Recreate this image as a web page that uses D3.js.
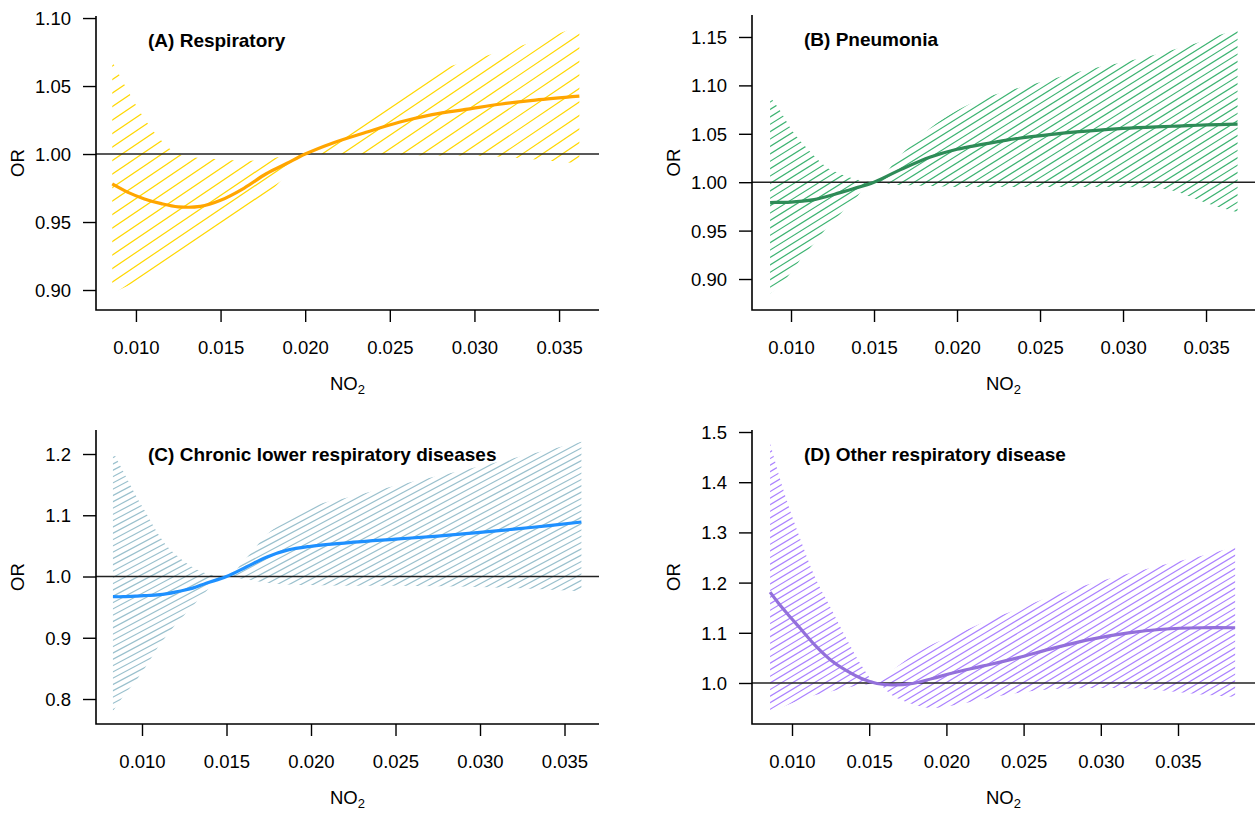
<!DOCTYPE html>
<html>
<head>
<meta charset="utf-8">
<script src="https://cdn.jsdelivr.net/npm/d3@7"></script>
<style>
  body { margin: 0; background: #fff; }
  text { font-family: "Liberation Sans", Arial, Helvetica, sans-serif; fill: #000; }
</style>
</head>
<body>
<svg id="chart" width="1255" height="813"></svg>
<script>
// NO2 ticks shared by all panels
const xTicks = [0.010, 0.015, 0.020, 0.025, 0.030, 0.035];

// (A) Respiratory
const xA   = [0.0086, 0.0095, 0.0105, 0.0115, 0.0125, 0.0138, 0.0150, 0.0164, 0.0177, 0.0189, 0.0200, 0.0216, 0.0236, 0.0256, 0.0275, 0.0296, 0.0316, 0.0336, 0.0362];
const fitA = [0.978, 0.972, 0.967, 0.9635, 0.9612, 0.9615, 0.966, 0.975, 0.9855, 0.993, 1.000, 1.008, 1.016, 1.0235, 1.029, 1.033, 1.0368, 1.0397, 1.0426];
const hiA  = [1.068, 1.047, 1.026, 1.010, 1.000, 0.997, 0.996, 0.995, 0.996, 0.999, 1.000, 1.013, 1.030, 1.046, 1.060, 1.068, 1.0755, 1.083, 1.094];
const loA  = [0.898, 0.903, 0.909, 0.916, 0.922, 0.932, 0.942, 0.954, 0.969, 0.985, 1.000, 1.000, 1.000, 0.9995, 0.999, 0.999, 0.998, 0.996, 0.993];
const yTicksA = [0.90, 0.95, 1.00, 1.05, 1.10];

// (B) Pneumonia
const xB   = [0.00874, 0.0093, 0.0100, 0.0107, 0.0114, 0.0121, 0.0129, 0.0137, 0.0150, 0.0166, 0.0184, 0.0200, 0.0215, 0.0230, 0.0245, 0.0260, 0.0280, 0.0300, 0.0320, 0.0333, 0.0345, 0.0358, 0.0369];
const fitB = [0.979, 0.9792, 0.9795, 0.9805, 0.982, 0.985, 0.989, 0.993, 1.000, 1.013, 1.026, 1.034, 1.039, 1.0435, 1.047, 1.050, 1.053, 1.0555, 1.0572, 1.058, 1.0588, 1.0595, 1.060];
const hiB  = [1.088, 1.075, 1.055, 1.040, 1.027, 1.016, 1.009, 1.004, 1.000, 1.028, 1.056, 1.074, 1.086, 1.094, 1.101, 1.108, 1.117, 1.124, 1.132, 1.138, 1.144, 1.152, 1.157];
const loB  = [0.885, 0.893, 0.907, 0.923, 0.937, 0.952, 0.966, 0.980, 1.000, 0.997, 0.996, 0.995, 0.995, 0.995, 0.995, 0.995, 0.995, 0.995, 0.994, 0.990, 0.982, 0.974, 0.969];
const yTicksB = [0.90, 0.95, 1.00, 1.05, 1.10, 1.15];

// (C) Chronic lower respiratory diseases
const xC   = [0.00828, 0.0089, 0.0097, 0.0103, 0.0109, 0.0115, 0.0122, 0.0130, 0.0138, 0.0150, 0.0162, 0.0174, 0.0186, 0.0199, 0.0225, 0.0250, 0.0275, 0.0300, 0.0330, 0.0360];
const fitC = [0.967, 0.967, 0.968, 0.969, 0.970, 0.972, 0.976, 0.981, 0.989, 1.000, 1.016, 1.032, 1.043, 1.049, 1.056, 1.061, 1.066, 1.072, 1.080, 1.089];
const hiC  = [1.204, 1.171, 1.129, 1.101, 1.072, 1.049, 1.031, 1.015, 1.005, 1.000, 1.031, 1.069, 1.092, 1.112, 1.131, 1.148, 1.164, 1.180, 1.200, 1.220];
const loC  = [0.780, 0.805, 0.832, 0.856, 0.883, 0.905, 0.928, 0.952, 0.976, 1.000, 0.995, 0.990, 0.987, 0.986, 0.985, 0.985, 0.984, 0.983, 0.980, 0.976];
const yTicksC = [0.8, 0.9, 1.0, 1.1, 1.2];

// (D) Other respiratory disease
const xD   = [0.00858, 0.0091, 0.0097, 0.0105, 0.0115, 0.0125, 0.0135, 0.0145, 0.0155, 0.0165, 0.0178, 0.0191, 0.0204, 0.0224, 0.0246, 0.0270, 0.0295, 0.0318, 0.0340, 0.0365, 0.0387];
const fitD = [1.181, 1.160, 1.138, 1.110, 1.075, 1.046, 1.025, 1.009, 0.999, 0.996, 0.999, 1.009, 1.020, 1.034, 1.050, 1.070, 1.088, 1.100, 1.107, 1.110, 1.110];
const hiD  = [1.478, 1.42, 1.36, 1.29, 1.21, 1.15, 1.09, 1.035, 1.000, 1.025, 1.055, 1.077, 1.093, 1.121, 1.147, 1.175, 1.199, 1.218, 1.235, 1.253, 1.271];
const loD  = [0.940, 0.948, 0.956, 0.966, 0.976, 0.983, 0.990, 0.996, 0.998, 0.975, 0.958, 0.950, 0.955, 0.968, 0.980, 0.988, 0.990, 0.990, 0.985, 0.977, 0.972];
const yTicksD = [1.0, 1.1, 1.2, 1.3, 1.4, 1.5];

const panels = [
  { key: "A", title: "(A) Respiratory", x: xA, fit: fitA, lo: loA, hi: hiA, yTicks: yTicksA, yFmt: ".2f",
    box: { l: 96, r: 599, t: 16, b: 310 }, xDom: [0.00764, 0.03736], yDom: [0.8853, 1.1015],
    line: "#FFA500", shade: "#FFD700", angle: 34, gap: 13.5 },
  { key: "B", title: "(B) Pneumonia", x: xB, fit: fitB, lo: loB, hi: hiB, yTicks: yTicksB, yFmt: ".2f",
    box: { l: 752, r: 1255, t: 15, b: 310 }, xDom: [0.00765, 0.03795], yDom: [0.868, 1.1727],
    line: "#2E8B57", shade: "#3CB371", angle: 32, gap: 7.4 },
  { key: "C", title: "(C) Chronic lower respiratory diseases", x: xC, fit: fitC, lo: loC, hi: hiC, yTicks: yTicksC, yFmt: ".1f",
    box: { l: 96, r: 599, t: 430, b: 724 }, xDom: [0.007278, 0.037041], yDom: [0.7592, 1.2392],
    line: "#1E90FF", shade: "#9AC0CD", angle: 28, gap: 6.3 },
  { key: "D", title: "(D) Other respiratory disease", x: xD, fit: fitD, lo: loD, hi: hiD, yTicks: yTicksD, yFmt: ".1f",
    box: { l: 752, r: 1255, t: 430, b: 724 }, xDom: [0.007409, 0.039987], yDom: [0.9183, 1.504],
    line: "#9370DB", shade: "#AB82FF", angle: 31, gap: 6.6 }
];

const svg = d3.select("#chart");
const defs = svg.append("defs");
const smooth = d3.curveCatmullRom.alpha(0.5);

panels.forEach(p => {
  const box = p.box;
  const x = d3.scaleLinear().domain(p.xDom).range([box.l, box.r]);
  const y = d3.scaleLinear().domain(p.yDom).range([box.b, box.t]);
  const rows = p.x.map((v, i) => ({ x: v, fit: p.fit[i], lo: p.lo[i], hi: p.hi[i] }));
  const g = svg.append("g");

  // confidence band used as clip region for the hatching
  const band = d3.area()
    .x(d => x(d.x)).y0(d => y(d.lo)).y1(d => y(d.hi))
    .curve(d3.curveMonotoneX);
  defs.append("clipPath").attr("id", "band" + p.key)
    .append("path").attr("d", band(rows));

  const tan = Math.tan(p.angle * Math.PI / 180);
  const w = box.r - box.l;
  const offsets = d3.range(box.t - 20, box.b + w * tan + 20, p.gap);
  g.append("g").attr("clip-path", `url(#band${p.key})`)
    .selectAll("line").data(offsets).join("line")
    .attr("x1", box.l).attr("y1", d => d)
    .attr("x2", box.r).attr("y2", d => d - w * tan)
    .attr("stroke", p.shade).attr("stroke-width", 1.2);

  // reference line at OR = 1
  g.append("line")
    .attr("x1", box.l).attr("x2", box.r)
    .attr("y1", y(1)).attr("y2", y(1))
    .attr("stroke", "#222").attr("stroke-width", 1.4);

  // fitted curve
  g.append("path").datum(rows)
    .attr("fill", "none").attr("stroke", p.line).attr("stroke-width", 3.2)
    .attr("d", d3.line().x(d => x(d.x)).y(d => y(d.fit)).curve(smooth));

  // axes
  const xa = g.append("g").attr("transform", `translate(0,${box.b})`)
    .call(d3.axisBottom(x).tickValues(xTicks).tickSize(12).tickSizeOuter(0).tickFormat(d3.format(".3f")));
  const ya = g.append("g").attr("transform", `translate(${box.l},0)`)
    .call(d3.axisLeft(y).tickValues(p.yTicks).tickSize(13).tickSizeOuter(0).tickFormat(d3.format(p.yFmt)));
  [xa, ya].forEach(a => {
    a.select(".domain").remove();
    a.selectAll(".tick line").attr("stroke", "#000").attr("stroke-width", 1.4);
    a.selectAll(".tick text").attr("font-size", 18.5).attr("fill", "#000")
      .style("font-family", '"Liberation Sans", Arial, sans-serif');
  });
  xa.selectAll(".tick text").attr("y", 43.5).attr("dy", null);
  ya.selectAll(".tick text").attr("x", -25).attr("dy", "0.35em");

  // L-shaped frame
  g.append("path")
    .attr("d", `M${box.l},${box.t}V${box.b}H${box.r}`)
    .attr("fill", "none").attr("stroke", "#000").attr("stroke-width", 1.6);

  // labels
  const xl = g.append("text")
    .attr("x", (box.l + box.r) / 2).attr("y", box.b + 80)
    .attr("text-anchor", "middle").attr("font-size", 18.5);
  xl.append("tspan").text("NO");
  xl.append("tspan").attr("font-size", 13).attr("dy", 4).text("2");

  g.append("text")
    .attr("transform", `translate(${box.l - 72},${(box.t + box.b) / 2}) rotate(-90)`)
    .attr("text-anchor", "middle").attr("font-size", 18.5).text("OR");

  g.append("text")
    .attr("x", box.l + 52).attr("y", box.t + 30.5)
    .attr("font-size", 19).attr("font-weight", "bold").text(p.title);
});
</script>
</body>
</html>
